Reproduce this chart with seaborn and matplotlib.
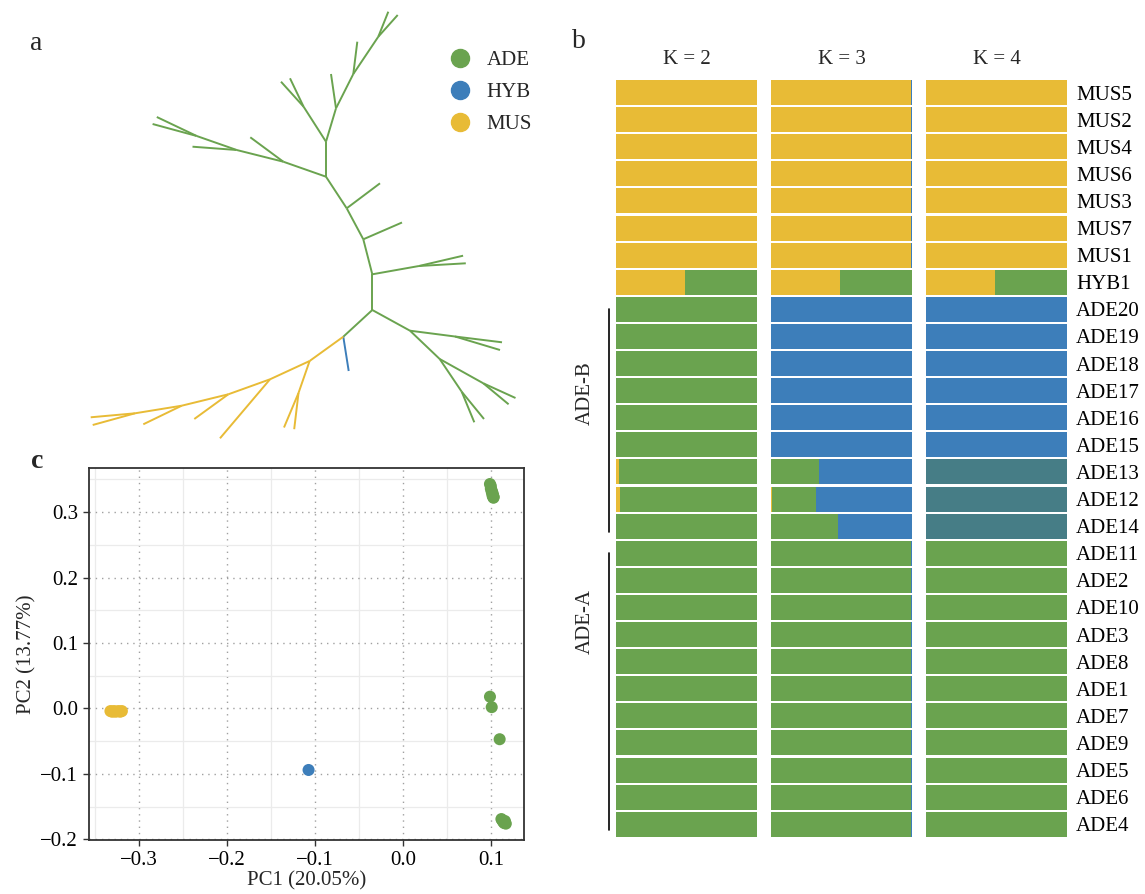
import numpy as np
import pandas as pd
import matplotlib
matplotlib.use("Agg")
import matplotlib.pyplot as plt
import seaborn as sns
from matplotlib.lines import Line2D
from matplotlib.ticker import FuncFormatter, MultipleLocator

# ---------------- data ----------------
groups = ["ADE", "HYB", "MUS"]
group_colors = ["#6AA34F", "#3D7EBA", "#E8BB36"]
teal = "#467D86"

# tree layout (node positions, panel-a pixel space)
tree_x = [372.3, 372.3, 363.3, 346.7, 326.0, 326.0, 336.0, 353.3, 378.3, 388.3,
          397.7, 357.3, 331.0, 303.6, 281.0, 290.0, 283.3, 250.3, 236.7, 192.5,
          196.7, 156.8, 152.6, 380.0, 402.0, 419.0, 463.1, 465.8, 410.0, 455.0,
          502.0, 500.0, 439.7, 483.3, 515.5, 508.6, 461.7, 484.0, 474.3, 343.3,
          348.7, 309.6, 298.5, 284.0, 294.2, 270.0, 220.0, 228.3, 194.3, 181.7,
          143.3, 135.0, 90.7, 92.7]
tree_y = [310.0, 274.3, 239.3, 208.3, 176.7, 141.7, 108.3, 74.0, 36.7, 11.7,
          15.0, 41.7, 74.0, 106.7, 81.7, 78.3, 161.7, 137.3, 150.0, 146.7,
          136.0, 117.0, 124.0, 183.3, 222.5, 266.0, 255.7, 263.3, 330.7, 336.5,
          342.3, 350.0, 359.0, 383.3, 398.0, 404.3, 391.7, 419.0, 422.3, 336.7,
          371.0, 361.0, 393.0, 427.5, 429.2, 379.3, 438.3, 394.3, 419.0, 405.7,
          424.3, 413.3, 417.3, 425.0]
tree_parent = [-1, 0, 1, 2, 3, 4, 5, 6, 7, 8,
               8, 7, 6, 5, 13, 13, 4, 16, 16, 18,
               18, 20, 20, 3, 2, 1, 25, 25, 0, 28,
               29, 29, 28, 32, 33, 33, 32, 36, 36, 0,
               39, 39, 41, 42, 42, 41, 45, 45, 47, 47,
               49, 49, 51, 51]
tree_group = ["ADE"] * 39 + ["ADE", "HYB"] + ["MUS"] * 13

# PCA
pc1_mus = [-0.332, -0.330, -0.328, -0.326, -0.323, -0.321, -0.319]
pc2_mus = [-0.004, -0.005, -0.004, -0.005, -0.004, -0.005, -0.004]
pc1_hyb = [-0.107]
pc2_hyb = [-0.094]
pc1_ade = [0.099, 0.100, 0.100, 0.101, 0.101, 0.102, 0.102, 0.102, 0.103, 0.103, 0.103,
           0.099, 0.101, 0.110,
           0.112, 0.113, 0.114, 0.115, 0.116, 0.117]
pc2_ade = [0.343, 0.340, 0.336, 0.333, 0.331, 0.329, 0.327, 0.325, 0.324, 0.323, 0.322,
           0.018, 0.002, -0.047,
           -0.169, -0.171, -0.173, -0.175, -0.172, -0.176]

# STRUCTURE (top to bottom)
samples = ["MUS5", "MUS2", "MUS4", "MUS6", "MUS3", "MUS7", "MUS1", "HYB1",
           "ADE20", "ADE19", "ADE18", "ADE17", "ADE16", "ADE15", "ADE13", "ADE12", "ADE14",
           "ADE11", "ADE2", "ADE10", "ADE3", "ADE8", "ADE1", "ADE7", "ADE9", "ADE5", "ADE6", "ADE4"]
k2_c1 = [1, 1, 1, 1, 1, 1, 1, 0.49, 0, 0, 0, 0, 0, 0, 0.02, 0.027, 0,
         0, 0, 0, 0, 0, 0, 0, 0, 0, 0, 0]
k2_c2 = [0, 0, 0, 0, 0, 0, 0, 0.51, 1, 1, 1, 1, 1, 1, 0.98, 0.973, 1,
         1, 1, 1, 1, 1, 1, 1, 1, 1, 1, 1]
k3_c1 = [0.995, 0.995, 0.995, 0.995, 0.995, 0.995, 0.995, 0.49, 0, 0, 0, 0, 0, 0, 0, 0.007, 0,
         0, 0, 0, 0, 0, 0, 0, 0, 0, 0, 0]
k3_c2 = [0, 0, 0, 0, 0, 0, 0, 0.51, 0, 0, 0, 0, 0, 0, 0.34, 0.31, 0.475,
         0.995, 0.995, 0.995, 0.995, 0.995, 0.995, 0.995, 0.995, 0.995, 0.995, 0.995]
k3_c3 = [0.005, 0.005, 0.005, 0.005, 0.005, 0.005, 0.005, 0, 1, 1, 1, 1, 1, 1, 0.66, 0.683, 0.525,
         0.005, 0.005, 0.005, 0.005, 0.005, 0.005, 0.005, 0.005, 0.005, 0.005, 0.005]
k4_c1 = [1, 1, 1, 1, 1, 1, 1, 0.49, 0, 0, 0, 0, 0, 0, 0, 0, 0,
         0, 0, 0, 0, 0, 0, 0, 0, 0, 0, 0]
k4_c2 = [0, 0, 0, 0, 0, 0, 0, 0.51, 0, 0, 0, 0, 0, 0, 0, 0, 0,
         1, 1, 1, 1, 1, 1, 1, 1, 1, 1, 1]
k4_c3 = [0, 0, 0, 0, 0, 0, 0, 0, 1, 1, 1, 1, 1, 1, 0, 0, 0,
         0, 0, 0, 0, 0, 0, 0, 0, 0, 0, 0]
k4_c4 = [0, 0, 0, 0, 0, 0, 0, 0, 0, 0, 0, 0, 0, 0, 1, 1, 1,
         0, 0, 0, 0, 0, 0, 0, 0, 0, 0, 0]
k_titles = ["K = 2", "K = 3", "K = 4"]

# ---------------- figure ----------------
sns.set_theme(style="white")
plt.rcParams["font.family"] = ["Liberation Serif", "DejaVu Serif"]
plt.rcParams["axes.unicode_minus"] = True

W, H = 1145, 894
fig = plt.figure(figsize=(W / 100, H / 100), dpi=100)


def px_axes(l, t, r, b):
    return fig.add_axes([l / W, 1 - b / H, (r - l) / W, (b - t) / H])


FS = 15
col_of = dict(zip(groups, group_colors))

# ---------- panel a: tree ----------
ax_a = px_axes(0, 0, 560, 460)
ax_a.set_xlim(0, 560)
ax_a.set_ylim(460, 0)
ax_a.axis("off")
for i, p in enumerate(tree_parent):
    if p < 0:
        continue
    ax_a.plot([tree_x[p], tree_x[i]], [tree_y[p], tree_y[i]],
              color=col_of[tree_group[i]], lw=1.4, solid_capstyle="butt")
handles = [Line2D([], [], marker="o", ls="", ms=13, color=c) for c in group_colors]
ax_a.legend(handles, groups, loc="upper left", bbox_to_anchor=(452 / W, 1 - 50.5 / H),
            bbox_transform=fig.transFigure, frameon=False, handlelength=0.8,
            handletextpad=0.87, labelspacing=0.6, borderpad=0, borderaxespad=0,
            fontsize=FS)

fig.text(35.7 / W, 1 - 43.3 / H, "a", fontsize=20, ha="center", va="center")
fig.text(578.7 / W, 1 - 42 / H, "b", fontsize=20, ha="center", va="center")
fig.text(36.7 / W, 1 - 461.7 / H, "c", fontsize=20, ha="center", va="center",
         fontweight="bold")

# ---------- panel c: PCA ----------
ax_c = px_axes(89.3, 468.3, 524.3, 840)
df = pd.DataFrame({
    "PC1": pc1_mus + pc1_hyb + pc1_ade,
    "PC2": pc2_mus + pc2_hyb + pc2_ade,
    "group": ["MUS"] * len(pc1_mus) + ["HYB"] * len(pc1_hyb) + ["ADE"] * len(pc1_ade),
})
ax_c.set_axisbelow(True)
sns.scatterplot(data=df, x="PC1", y="PC2", hue="group", palette=col_of, s=75,
                edgecolor="none", legend=False, ax=ax_c, zorder=3)
ax_c.set_xlim(-0.356, 0.138)
ax_c.set_ylim(-0.201, 0.367)
ax_c.xaxis.set_major_locator(MultipleLocator(0.1))
ax_c.yaxis.set_major_locator(MultipleLocator(0.1))
ax_c.xaxis.set_minor_locator(MultipleLocator(0.05))
ax_c.yaxis.set_minor_locator(MultipleLocator(0.05))
fmt = FuncFormatter(lambda v, p: f"{round(v, 1):.1f}".replace("-0.0", "0.0").replace("-", "\u2212"))
ax_c.xaxis.set_major_formatter(fmt)
ax_c.yaxis.set_major_formatter(fmt)
ax_c.grid(which="minor", color="#EBEBEB", lw=0.9, ls="-")
ax_c.grid(which="major", color="#A0A0A0", lw=1.0, ls=(0, (1, 3.5)))
for s in ax_c.spines.values():
    s.set_color("#333333")
    s.set_linewidth(1.3)
ax_c.tick_params(axis="both", which="major", direction="out", length=4, width=1,
                 color="#333333", labelsize=FS, labelcolor="black", pad=4,
                 bottom=True, left=True)
ax_c.tick_params(axis="both", which="minor", length=0)
ax_c.set_xlabel("PC1 (20.05%)", fontsize=FS, labelpad=1)
ax_c.set_ylabel("PC2 (13.77%)", fontsize=FS, labelpad=3)

# ---------- panel b: STRUCTURE ----------
comps_all = [
    ([k2_c1, k2_c2], [group_colors[2], group_colors[0]]),
    ([k3_c1, k3_c2, k3_c3], [group_colors[2], group_colors[0], group_colors[1]]),
    ([k4_c1, k4_c2, k4_c3, k4_c4], [group_colors[2], group_colors[0], group_colors[1], teal]),
]
col_x = [(616.3, 757.1), (771.0, 912.1), (926.0, 1067.2)]
pitch = 27.1
top = 79.0
bottom = top + pitch * len(samples)
axes_b = []
for ci, ((comps, cols), (l, r)) in enumerate(zip(comps_all, col_x)):
    ax = px_axes(l, top, r, bottom)
    cum = np.cumsum(np.array(comps, dtype=float), axis=0)
    for j in reversed(range(len(comps))):
        sns.barplot(x=cum[j], y=samples, orient="h", order=samples, color=cols[j],
                    saturation=1, width=0.92, linewidth=0, ax=ax)
    ax.set_xlim(0, 1)
    ax.set_ylim(len(samples) - 0.5, -0.5)
    ax.set_xlabel("")
    ax.set_ylabel("")
    ax.set_xticks([])
    for s in ax.spines.values():
        s.set_visible(False)
    if ci < 2:
        ax.tick_params(axis="y", left=False, labelleft=False)
    else:
        ax.yaxis.tick_right()
        ax.tick_params(axis="y", right=False, left=False, length=0, pad=6.5,
                       labelsize=FS, labelcolor="black")
    fig.text((l + r) / 2 / W, 1 - 59 / H, k_titles[ci], fontsize=FS,
             ha="center", va="center")
    axes_b.append(ax)

ax1 = axes_b[0]
xf = (608.7 - 616.3) / (757.1 - 616.3)
tr = ax1.get_yaxis_transform()
ax1.plot([xf, xf], [samples.index("ADE20"), samples.index("ADE14") + 0.2],
         transform=tr, clip_on=False, color="black", lw=1.2)
ax1.plot([xf, xf], [samples.index("ADE11"), samples.index("ADE4") + 0.2],
         transform=tr, clip_on=False, color="black", lw=1.2)
xt = (585 - 616.3) / (757.1 - 616.3)
ax1.text(xt, 11.1, "ADE-B", transform=tr, rotation=90, ha="center", va="center",
         fontsize=FS, clip_on=False)
ax1.text(xt, 19.5, "ADE-A", transform=tr, rotation=90, ha="center", va="center",
         fontsize=FS, clip_on=False)

fig.savefig("out.png", dpi=100)
